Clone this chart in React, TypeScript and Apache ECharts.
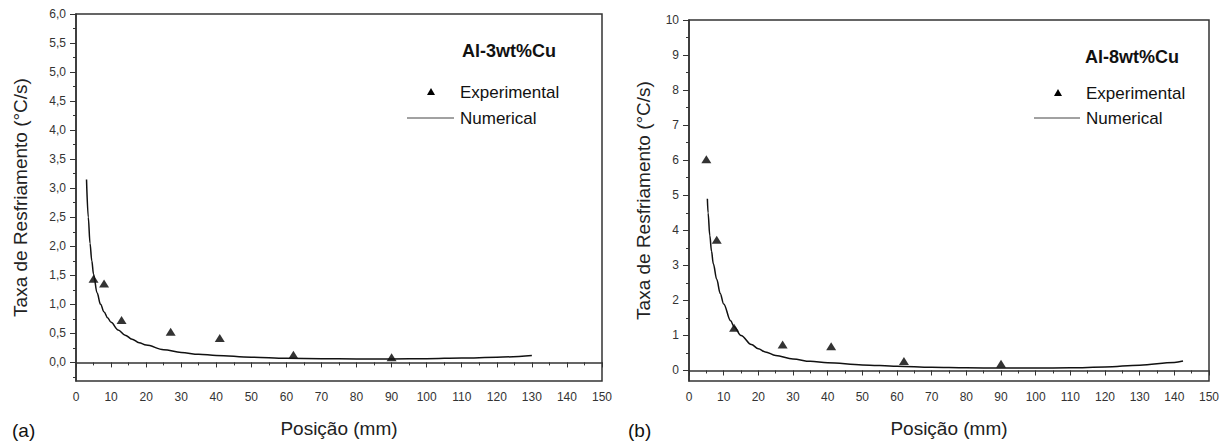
import React, { useEffect, useRef } from "react";
import * as echarts from "echarts";

// Panel (a): Al-3wt%Cu
const positionExpA = [5, 8, 13, 27, 41, 62, 90];
const rateExpA = [1.44, 1.36, 0.73, 0.53, 0.42, 0.13, 0.09];
const positionNumA = [3, 3.5, 4, 4.5, 5, 6, 7, 8, 9, 10, 12, 14, 16, 18, 20, 25, 30, 35, 40, 50, 60, 70, 80, 90, 100, 110, 120, 130];
const rateNumA = [3.15, 2.5, 2.05, 1.75, 1.52, 1.2, 1.0, 0.87, 0.77, 0.69, 0.56, 0.47, 0.4, 0.34, 0.3, 0.22, 0.17, 0.14, 0.12, 0.09, 0.07, 0.065, 0.06, 0.06, 0.065, 0.075, 0.09, 0.12];

// Panel (b): Al-8wt%Cu
const positionExpB = [5, 8, 13, 27, 41, 62, 90];
const rateExpB = [6.03, 3.73, 1.22, 0.74, 0.69, 0.27, 0.19];
const positionNumB = [5.3, 5.5, 6, 6.5, 7, 8, 9, 10, 12, 13, 15, 18, 20, 22, 25, 30, 35, 40, 50, 60, 70, 80, 90, 100, 110, 120, 130, 140, 142.5];
const rateNumB = [4.9, 4.5, 3.85, 3.4, 3.05, 2.6, 2.2, 1.9, 1.42, 1.25, 1.0, 0.74, 0.62, 0.53, 0.43, 0.33, 0.26, 0.22, 0.16, 0.12, 0.09, 0.075, 0.07, 0.07, 0.075, 0.1, 0.15, 0.23, 0.27];

// Tick values
const yMajorA = [0, 0.5, 1, 1.5, 2, 2.5, 3, 3.5, 4, 4.5, 5, 5.5, 6];
const yMinorA = [-0.25, 0.25, 0.75, 1.25, 1.75, 2.25, 2.75, 3.25, 3.75, 4.25, 4.75, 5.25, 5.75];
const yMajorB = [0, 1, 2, 3, 4, 5, 6, 7, 8, 9, 10];
const yMinorB = [0.5, 1.5, 2.5, 3.5, 4.5, 5.5, 6.5, 7.5, 8.5, 9.5];

const FONT = "'Liberation Sans', Arial, Helvetica, sans-serif";
const AX = "#333";

const zip = (xs: number[], ys: number[]) => xs.map((x, i) => [x, ys[i]]);

export default function App() {
  const ref = useRef<HTMLDivElement>(null);
  useEffect(() => {
    if (!ref.current) return;
    const chart = echarts.init(ref.current, null, { renderer: "svg" });

    const xAxisCfg = (gridIndex: number) => ({
      type: "value",
      gridIndex,
      min: 0,
      max: 150,
      interval: 10,
      name: "Posição (mm)",
      nameLocation: "middle",
      nameGap: 38,
      nameTextStyle: { fontFamily: FONT, fontSize: 19, color: "#222" },
      axisLine: { show: true, lineStyle: { color: AX, width: 1.5 } },
      axisTick: { show: true, length: 5, lineStyle: { color: AX, width: 1 } },
      minorTick: { show: true, splitNumber: 2, length: 3, lineStyle: { color: AX, width: 1 } },
      axisLabel: { fontFamily: FONT, fontSize: 12, color: AX, margin: 10 },
      splitLine: { show: false },
      minorSplitLine: { show: false },
    });

    const yMain = (gridIndex: number, min: number, max: number, major: number[], fmt: (v: number) => string, nameGap: number) => ({
      type: "value",
      gridIndex,
      min,
      max,
      name: "Taxa de Resfriamento (°C/s)",
      nameLocation: "middle",
      nameGap,
      nameTextStyle: { fontFamily: FONT, fontSize: 19, color: "#222" },
      axisLine: { show: true, onZero: false, lineStyle: { color: AX, width: 1.5 } },
      axisTick: { show: true, length: 6, customValues: major, lineStyle: { color: AX, width: 1 } },
      axisLabel: { fontFamily: FONT, fontSize: 12, color: AX, margin: 10, customValues: major, formatter: fmt },
      splitLine: { show: false },
    });

    const yMinor = (gridIndex: number, min: number, max: number, minor: number[]) => ({
      type: "value",
      gridIndex,
      min,
      max,
      position: "left",
      axisLine: { show: false },
      axisTick: { show: true, length: 3, customValues: minor, lineStyle: { color: AX, width: 1 } },
      axisLabel: { show: false },
      splitLine: { show: false },
    });

    const tri = (cx: number, cy: number) => ({
      type: "polygon",
      shape: { points: [[cx - 4, cy + 3], [cx + 4, cy + 3], [cx, cy - 4]] },
      style: { fill: "#000" },
    });
    const txt = (x: number, y: number, text: string, size: number, bold = false) => ({
      type: "text",
      x,
      y,
      style: {
        text,
        fontFamily: FONT,
        fontSize: size,
        fontWeight: bold ? "bold" : "normal",
        fill: "#111",
        verticalAlign: "middle",
        align: "left",
      },
    });
    const seg = (x1: number, x2: number, y: number) => ({
      type: "line",
      shape: { x1, y1: y, x2, y2: y },
      style: { stroke: "#444", lineWidth: 1 },
    });

    const lineSeries = (xi: number, yi: number, xs: number[], ys: number[]) => ({
      name: "Numerical",
      type: "line",
      xAxisIndex: xi,
      yAxisIndex: yi,
      smooth: 0.35,
      smoothMonotone: "x",
      showSymbol: false,
      lineStyle: { color: "#111", width: 1.5 },
      data: zip(xs, ys),
    });
    const scatterSeries = (xi: number, yi: number, xs: number[], ys: number[]) => ({
      name: "Experimental",
      type: "scatter",
      xAxisIndex: xi,
      yAxisIndex: yi,
      symbol: "triangle",
      symbolSize: [10, 8],
      itemStyle: { color: "#000" },
      data: zip(xs, ys),
    });

    chart.setOption({
      animation: false,
      backgroundColor: "#fff",
      grid: [
        { left: 76, top: 14, right: 630, bottom: 61, show: true, borderColor: AX, borderWidth: 1.5, containLabel: false },
        { left: 689, top: 20, right: 23, bottom: 61, show: true, borderColor: AX, borderWidth: 1.5, containLabel: false },
      ],
      xAxis: [xAxisCfg(0), xAxisCfg(1)],
      yAxis: [
        yMain(0, -0.32, 6, yMajorA, (v: number) => v.toFixed(1).replace(".", ","), 46),
        yMinor(0, -0.32, 6, yMinorA),
        yMain(1, -0.3, 10, yMajorB, (v: number) => String(v), 36),
        yMinor(1, -0.3, 10, yMinorB),
      ],
      series: [
        scatterSeries(0, 0, positionExpA, rateExpA),
        lineSeries(0, 0, positionNumA, rateNumA),
        scatterSeries(1, 2, positionExpB, rateExpB),
        lineSeries(1, 2, positionNumB, rateNumB),
      ],
      graphic: [
        txt(462, 51, "Al-3wt%Cu", 18, true),
        tri(431, 92),
        txt(460, 92, "Experimental", 17),
        seg(407, 454, 118),
        txt(460, 118, "Numerical", 17),
        txt(1085, 57, "Al-8wt%Cu", 18, true),
        tri(1058, 93),
        txt(1086, 93, "Experimental", 17),
        seg(1034, 1080, 118),
        txt(1086, 118, "Numerical", 17),
        txt(12, 430, "(a)", 19),
        txt(628, 430, "(b)", 19),
      ],
    });
    return () => chart.dispose();
  }, []);
  return (
    <div
      ref={ref}
      style={{ position: "absolute", left: 0, top: 0, width: 1232, height: 443, background: "#fff" }}
    />
  );
}
